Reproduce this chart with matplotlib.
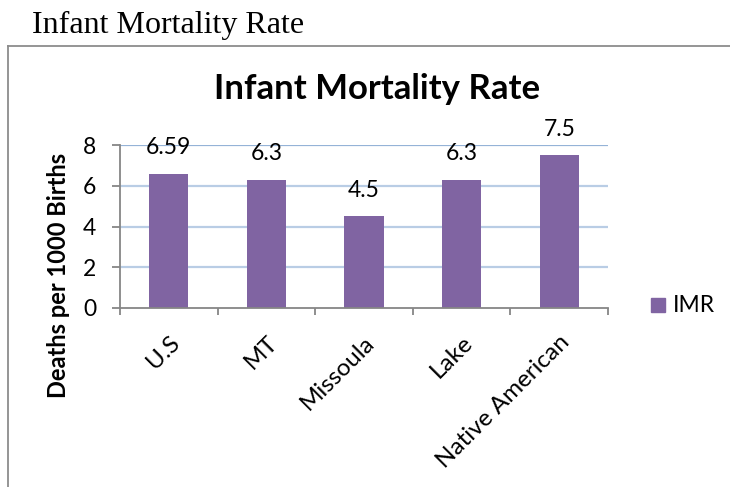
import matplotlib
matplotlib.use("Agg")
import matplotlib.pyplot as plt
from matplotlib.lines import Line2D
from matplotlib.patches import Rectangle
from matplotlib.transforms import ScaledTranslation

categories = ["U.S", "MT", "Missoula", "Lake", "Native American"]
values = [6.59, 6.3, 4.5, 6.3, 7.5]
value_labels = ["6.59", "6.3", "4.5", "6.3", "7.5"]
yticks = [0, 2, 4, 6, 8]

BAR = "#8064A2"
GRID = "#B9CDE5"
GRID_TOP = "#95B3D7"
AXIS = "#868686"
FONT = "Lato"
FS = 16.5

W, H = 730, 487
fig = plt.figure(figsize=(W / 100, H / 100), dpi=100)


def fx(px):
    return px / W


def fy(py):
    return 1 - py / H


# page heading and the chart frame
fig.text(fx(32), fy(33), "Infant Mortality Rate", family="Liberation Serif",
         fontsize=23, color="black", va="baseline")
fig.add_artist(Line2D([fx(8), fx(8)], [fy(46), 0], color="#8C8C8C", lw=1.3))
fig.add_artist(Line2D([fx(8), 1], [fy(46), fy(46)], color="#8C8C8C", lw=1.3))

ax = fig.add_axes([fx(120), fy(308), fx(608) - fx(120), fy(145) - fy(308)])
x = list(range(len(categories)))
ax.bar(x, values, width=0.4, color=BAR, zorder=3, label="IMR")
ax.set_xlim(-0.5, len(categories) - 0.5)
ax.set_ylim(0, 8)

for v in yticks[1:]:
    ax.axhline(v, color=GRID_TOP if v == 8 else GRID, lw=1.6, zorder=1)

for xi, v, lab in zip(x, values, value_labels):
    ax.annotate(lab, (xi, v), xytext=(0, 11), textcoords="offset points",
                ha="center", va="bottom", fontsize=FS, family=FONT)

for s in ["top", "right"]:
    ax.spines[s].set_visible(False)
for s in ["left", "bottom"]:
    ax.spines[s].set_color(AXIS)
    ax.spines[s].set_linewidth(1.3)
    ax.spines[s].set_zorder(4)

ax.set_yticks(yticks)
ax.set_yticklabels([str(v) for v in yticks], fontsize=FS, family=FONT)
ax.tick_params(axis="y", length=6, width=1.3, color=AXIS, pad=11)

ax.set_xticks(x)
ax.set_xticklabels(categories, rotation=45, ha="right", rotation_mode="anchor",
                   fontsize=17.5, family=FONT)
shift = ScaledTranslation(-10 / 100, 0, fig.dpi_scale_trans)
for lbl in ax.get_xticklabels():
    lbl.set_transform(lbl.get_transform() + shift)
ax.set_xticks([i - 0.5 for i in range(len(categories) + 1)], minor=True)
ax.tick_params(axis="x", which="major", length=0, pad=17)
ax.tick_params(axis="x", which="minor", length=5, width=1.3, color=AXIS)

ax.set_ylabel("Deaths per 1000 Births", fontsize=17, fontweight="bold",
              family=FONT)
ax.yaxis.set_label_coords(-(120 - 70) / 488, (309 - 276) / 164)

fig.text(fx(377), fy(99), "Infant Mortality Rate", ha="center", va="baseline",
         fontsize=25, fontweight="bold", family=FONT)

# legend
fig.add_artist(Rectangle((fx(651), fy(312)), fx(14), fy(298) - fy(312),
                         color=BAR, transform=fig.transFigure))
fig.text(fx(673), fy(305), "IMR", va="center", fontsize=FS, family=FONT)

fig.savefig("out.png", dpi=100, facecolor="white")
